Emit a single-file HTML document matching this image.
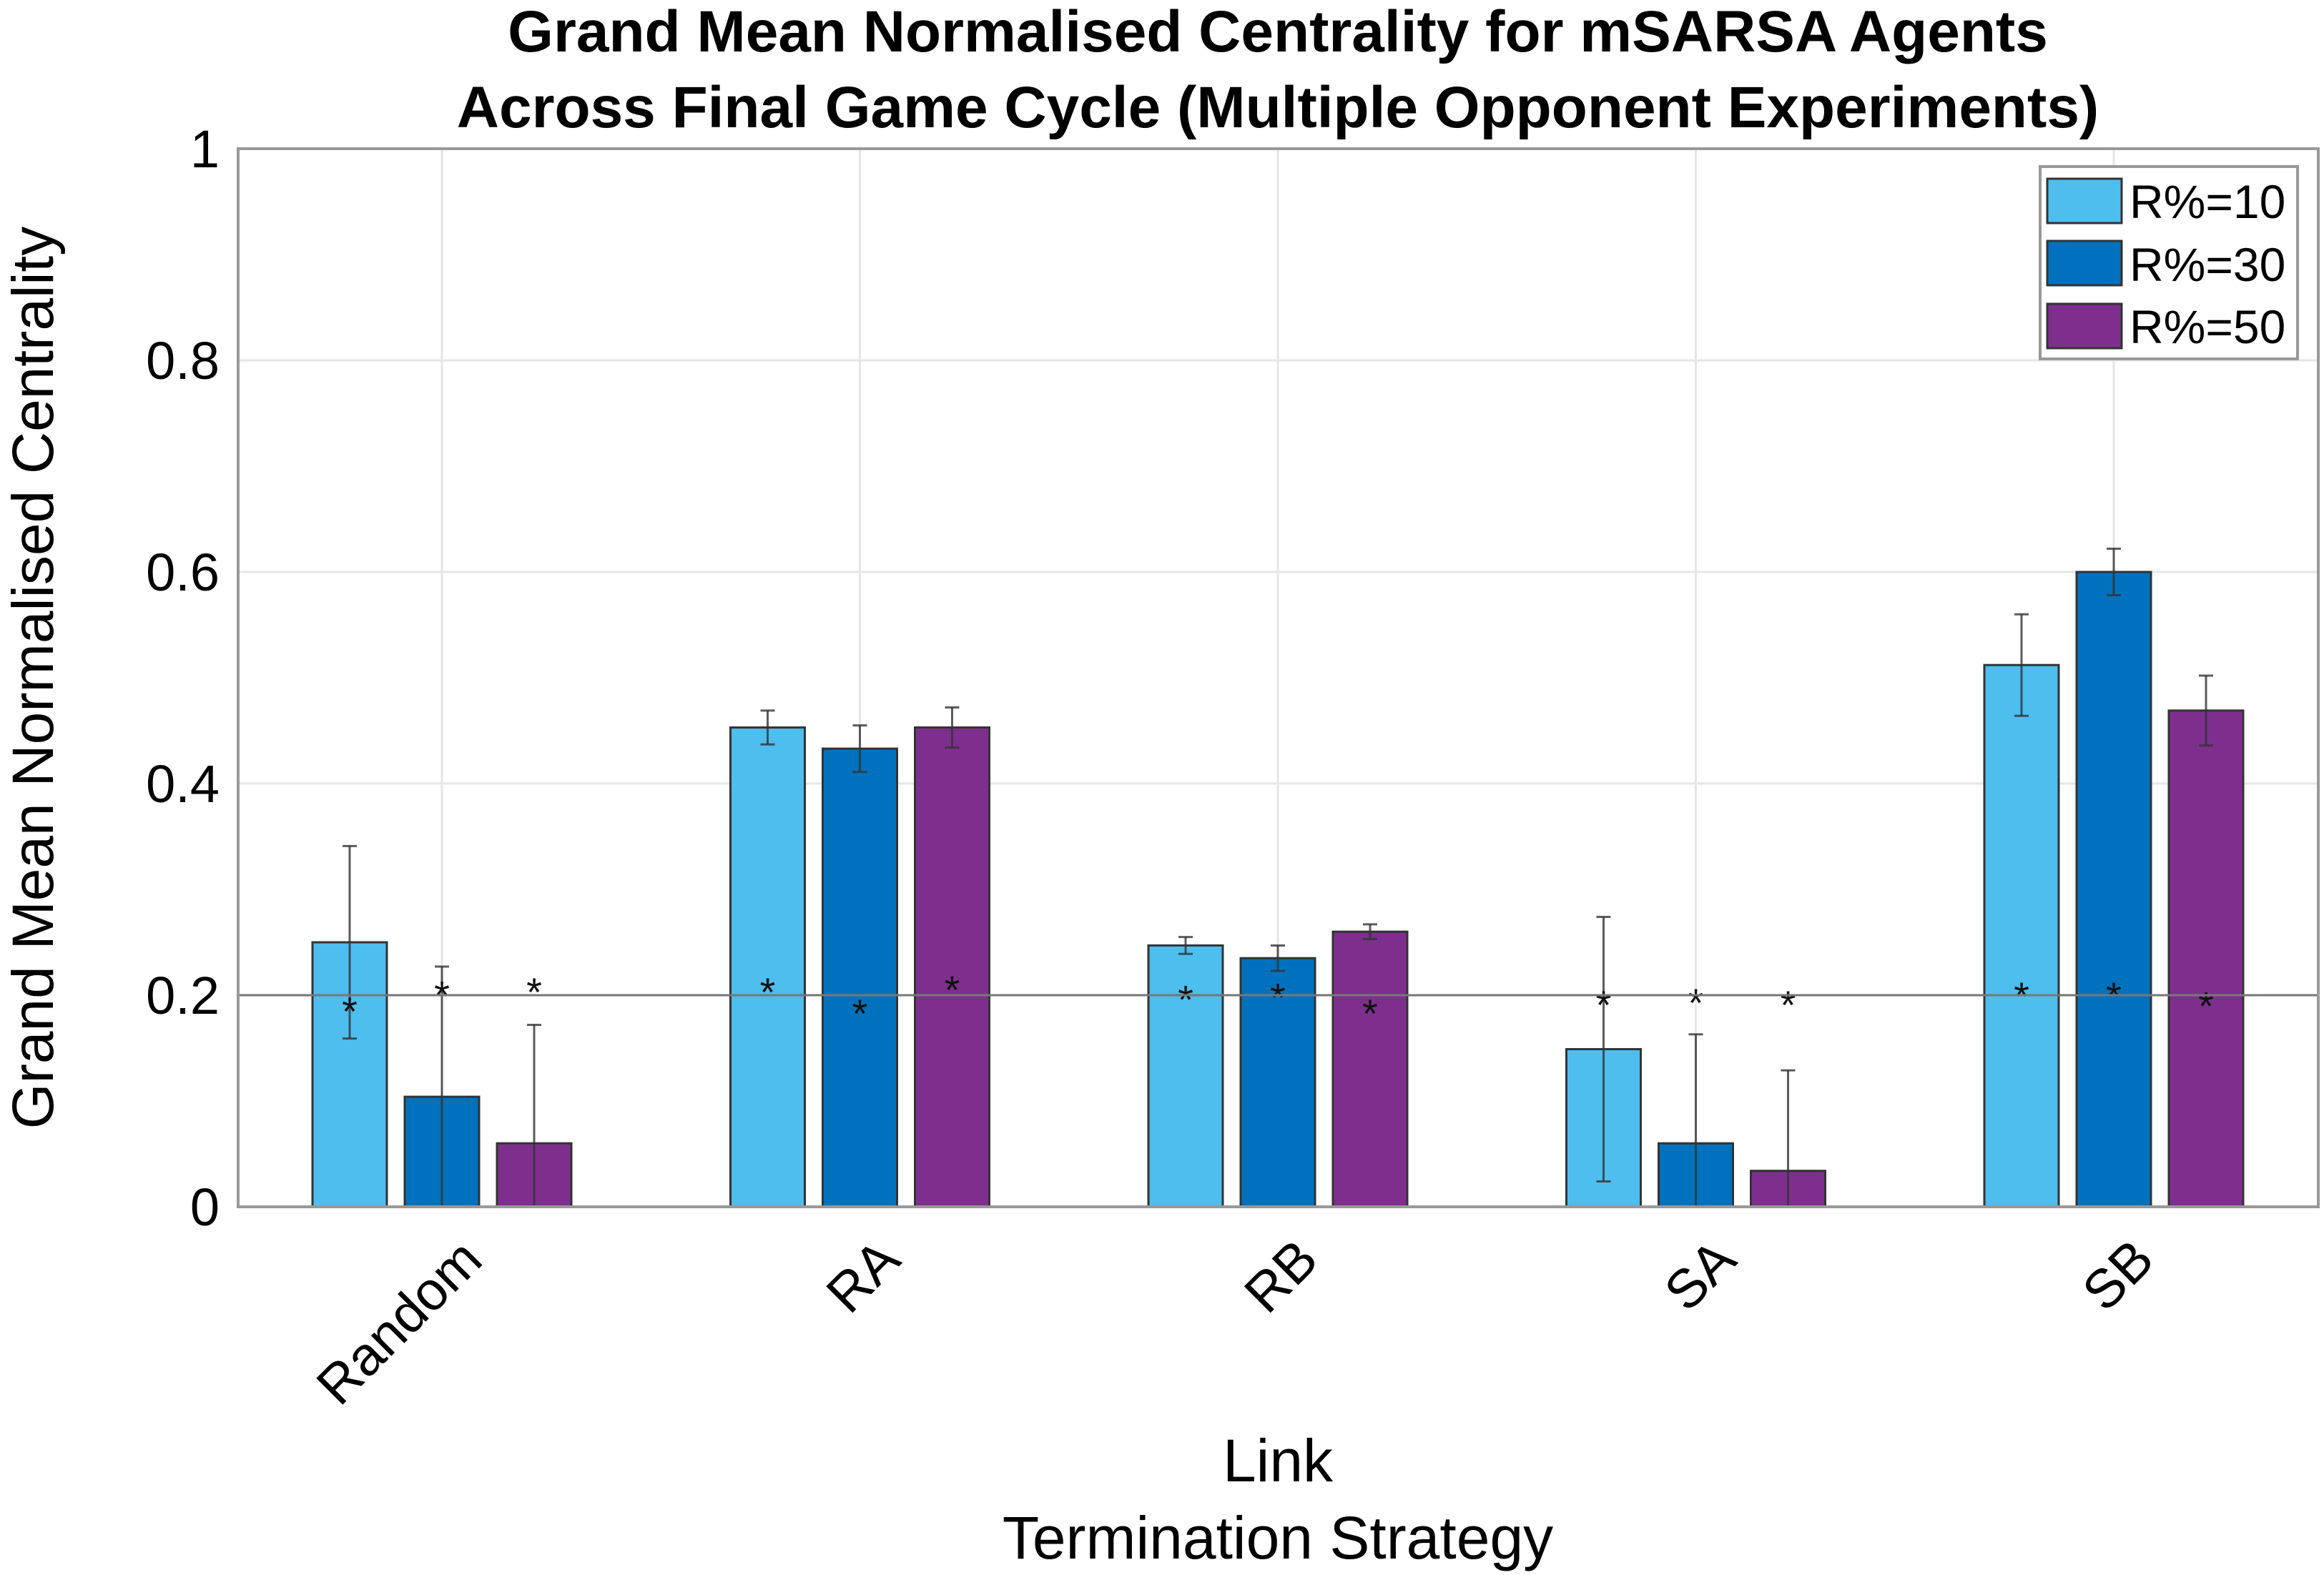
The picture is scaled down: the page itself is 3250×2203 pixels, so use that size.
<!DOCTYPE html>
<html><head><meta charset="utf-8"><style>
body{margin:0;background:#fff}
svg{display:block;font-family:"Liberation Sans",Arial,sans-serif}
</style></head><body>
<svg id="chart" width="3250" height="2203" viewBox="0 0 3250 2203" xmlns="http://www.w3.org/2000/svg">
<rect width="3250" height="2203" fill="#fff"/>
<g id="grid"></g>
<g id="bars"></g>
<g id="axes"></g>
<text x="1787" y="72" text-anchor="middle" font-size="82" font-weight="bold">Grand Mean Normalised Centrality for mSARSA Agents</text>
<text x="1787" y="178" text-anchor="middle" font-size="82" font-weight="bold">Across Final Game Cycle (Multiple Opponent Experiments)</text>
<text x="1787" y="2072" text-anchor="middle" font-size="84">Link</text>
<text x="1787" y="2180" text-anchor="middle" font-size="84">Termination Strategy</text>
<text transform="translate(74,948) rotate(-90)" text-anchor="middle" font-size="82">Grand Mean Normalised Centrality</text>
<g>
<rect x="2853" y="233" width="360" height="269" fill="#fff" stroke="#999" stroke-width="4"/>
<g><rect x="2863" y="250" width="104" height="62" fill="#4DBEEE" stroke="#333" stroke-width="3"/><text x="2978" y="305" font-size="66">R%=10</text></g>
<g><rect x="2863" y="337" width="104" height="62" fill="#0072BD" stroke="#333" stroke-width="3"/><text x="2978" y="393" font-size="66">R%=30</text></g>
<g><rect x="2863" y="425" width="104" height="62" fill="#7E2F8E" stroke="#333" stroke-width="3"/><text x="2978" y="480" font-size="66">R%=50</text></g>
</g>
</svg>
<script>
const categories = ["Random","RA","RB","SA","SB"];
const r10 = [0.25,0.453,0.247,0.149,0.512];
const r30 = [0.104,0.433,0.235,0.06,0.6];
const r50 = [0.06,0.453,0.26,0.034,0.469];
const err10 = [0.091,0.016,0.008,0.125,0.048];
const err30 = [0.123,0.022,0.012,0.103,0.022];
const err50 = [0.112,0.019,0.007,0.095,0.033];
const star10 = [0.192,0.21,0.203,0.198,0.206];
const star30 = [0.207,0.19,0.205,0.2,0.206];
const star50 = [0.21,0.212,0.19,0.198,0.197];
const yTicks = [0,0.2,0.4,0.6,0.8,1];
const yTickLabels = ["0","0.2","0.4","0.6","0.8","1"];
const refLine = 0.2;

const NS="http://www.w3.org/2000/svg";
const L=333,R=3242,T=208,B=1688;
const y=v=>B-(v)*(B-T);
const xc=i=>618+i*584.5;
function mk(tag,attrs,parent){const e=document.createElementNS(NS,tag);for(const k in attrs)e.setAttribute(k,attrs[k]);parent.appendChild(e);return e;}
const grid=document.getElementById('grid'),bars=document.getElementById('bars'),axes=document.getElementById('axes');
yTicks.forEach((t,i)=>{
  const g=mk('line',{x1:L,x2:R,y1:y(t),y2:y(t),stroke:'#e6e6e6','stroke-width':3},grid);
  
  
  const tx=mk('text',{x:307,y:y(t)+26,'text-anchor':'end','font-size':74},axes);
  tx.textContent=yTickLabels[i];
  
  
});
categories.forEach((c,i)=>{
  const g=mk('line',{x1:xc(i),x2:xc(i),y1:T,y2:B,stroke:'#e6e6e6','stroke-width':3},grid);
  
  
  const tx=mk('text',{transform:`translate(${xc(i)+60},${B+78}) rotate(-45)`,'text-anchor':'end','font-size':76},axes);
  tx.textContent=c;
  
  
});
const series=[[r10,err10,star10,'#4DBEEE',-129],[r30,err30,star30,'#0072BD',0],[r50,err50,star50,'#7E2F8E',129]];
series.forEach((s,si)=>{
  categories.forEach((c,i)=>{
    const cx=xc(i)+s[4],v=s[0][i],e=s[1][i];
    const b=mk('rect',{x:cx-52,y:y(v),width:104,height:B-y(v),fill:s[3],stroke:'#333','stroke-width':3},bars);
    
    
    const lo=Math.max(0,v-e),hi=v+e;
    const eg=mk('g',{stroke:'#333','stroke-width':3,'stroke-opacity':0.8},bars);
    
    
    mk('line',{x1:cx,x2:cx,y1:y(hi),y2:y(lo)},eg);
    mk('line',{x1:cx-10,x2:cx+10,y1:y(hi),y2:y(hi)},eg);
    if(v-e>0)mk('line',{x1:cx-10,x2:cx+10,y1:y(lo),y2:y(lo)},eg);
    const st=mk('text',{x:cx,y:y(s[2][i])+30,'text-anchor':'middle','font-size':56,fill:'#111'},bars);
    st.textContent='*';
    
    
  });
});
const rl=mk('line',{x1:L,x2:R,y1:y(refLine),y2:y(refLine),stroke:'#777','stroke-width':3},bars);


const fr=mk('rect',{x:L,y:T,width:R-L,height:B-T,fill:'none',stroke:'#999','stroke-width':4},axes);


</script>
</body></html>
